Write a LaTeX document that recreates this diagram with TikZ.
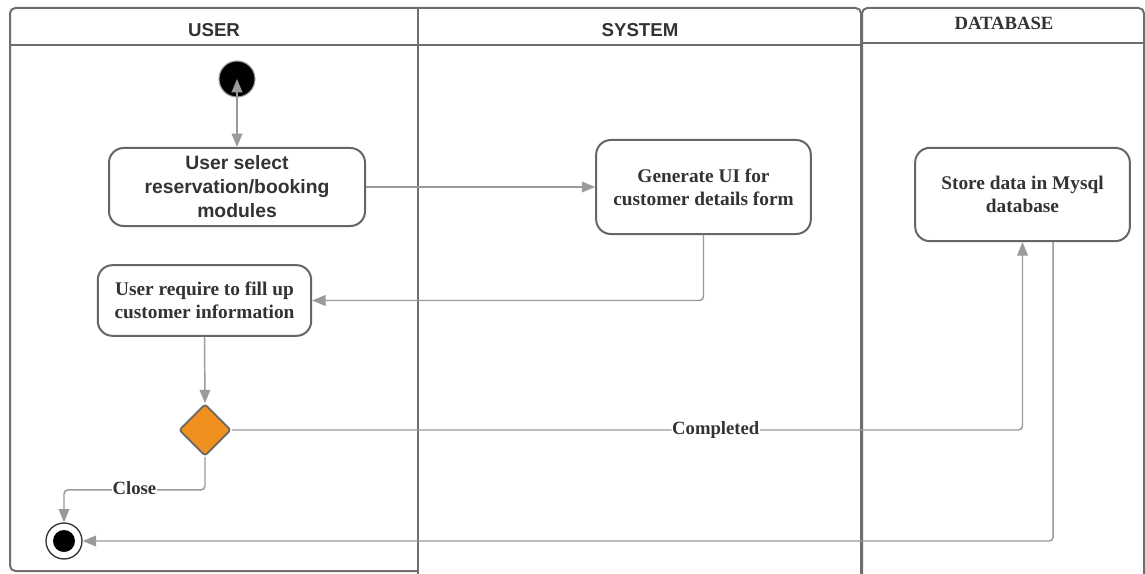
\documentclass[tikz,border=0pt]{standalone}
\usepackage{fontspec}
\setmainfont{Liberation Serif}
\setsansfont{Liberation Sans}
\usetikzlibrary{arrows.meta,shapes.geometric}

\definecolor{laneline}{HTML}{6E6E6E}
\definecolor{flowline}{HTML}{9A9A9A}
\definecolor{boxline}{HTML}{666666}
\definecolor{inktext}{HTML}{333333}
\definecolor{decision}{HTML}{F0901E}

\begin{document}
\begin{tikzpicture}[x=0.75pt,y=-0.75pt,>={Triangle[length=10pt,width=8pt]},
  lane/.style={laneline,line width=1.5pt,rounded corners=4pt},
  action/.style={draw=boxline,line width=1.5pt,rounded corners=11pt,align=center,
    text=inktext,inner sep=2pt,font=\bfseries\fontsize{14.5}{17}\selectfont},
  sansaction/.style={action,font=\sffamily\bfseries\fontsize{14.5}{18}\selectfont},
  flow/.style={flowline,line width=1.1pt,rounded corners=3pt},
  flowlabel/.style={fill=white,inner sep=0.5pt,text=inktext,
    font=\bfseries\fontsize{14}{16}\selectfont},
  lanetitle/.style={text=inktext,inner sep=0pt}]
  \useasboundingbox (0,0) rectangle (1145,574);
  \fill[white] (0,0) rectangle (1145,574);
  \clip (0,0) rectangle (1145,574);

  % swimlanes: USER | SYSTEM share one header, DATABASE stands apart
  \draw[lane] (418,571) -- (10,571) -- (10,8) -- (861,8) -- (861,600);
  \draw[lane] (418,8) -- (418,600);
  \draw[lane] (10,45) -- (861,45);
  \draw[lane] (862,600) -- (862,8) -- (1144,8) -- (1144,600);
  \draw[lane] (862,43) -- (1144,43);

  \node[lanetitle,font=\sffamily\bfseries\fontsize{14}{16}\selectfont] (userlane) at (214,30) {USER};
  \node[lanetitle,font=\sffamily\bfseries\fontsize{14}{16}\selectfont] (syslane) at (640,30) {SYSTEM};
  \node[lanetitle,font=\bfseries\fontsize{14}{16}\selectfont] (dblane) at (1004,23) {DATABASE};

  % activities
  \node[circle,fill=black,draw=flowline,line width=0.8pt,minimum size=27pt,inner sep=0pt]
    (start) at (237,79) {};
  \node[sansaction,minimum width=192pt,minimum height=58.5pt] (select) at (237,187)
    {User select\\reservation/booking\\modules};
  \node[action,minimum width=161pt,minimum height=70.5pt] (genui) at (703.5,187)
    {Generate UI for\\customer details form};
  \node[action,minimum width=160pt,minimum height=53pt] (fillinfo) at (204.5,300.5)
    {User require to fill up\\customer information};
  \node[action,minimum width=161pt,minimum height=70pt] (store) at (1022.5,194.5)
    {Store data in Mysql\\database};
  \node[diamond,draw=boxline,fill=decision,line width=1.3pt,rounded corners=2pt,
    minimum width=39pt,minimum height=39pt,inner sep=0pt] (check) at (205,430) {};
  \node[circle,draw=inktext,fill=white,line width=1pt,minimum size=27pt,inner sep=0pt]
    (done) at (64,541) {};
  \fill (done.center) circle[radius=8.25pt];

  % control flow
  \draw[flow,<->] (start.center) -- (select.north);
  \draw[flow,->] (select.east) -- (genui.west);
  \draw[flow,->] (genui.south) |- (fillinfo.east);
  \draw[flow,->] (fillinfo.south) -- (check.north);
  \draw[flow,->] (check.east) -| node[flowlabel,pos=0.306] {Completed} (store.south);
  \draw[flow,->] (check.south) -- ++(0,33) -| node[flowlabel,pos=0.25,yshift=1pt] {Close} (done.north);
  \draw[flow,->] ([xshift=23pt]store.south) |- (done.east);
\end{tikzpicture}
\end{document}
